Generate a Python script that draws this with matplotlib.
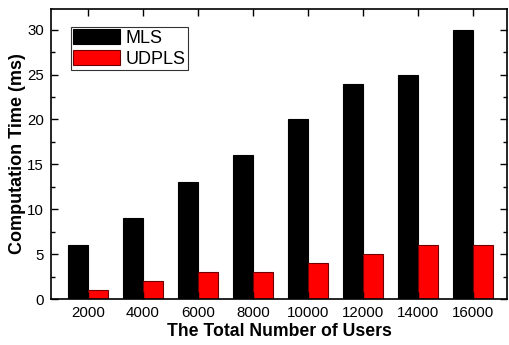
import numpy as np
import matplotlib
matplotlib.use("Agg")
import matplotlib.pyplot as plt
from matplotlib.ticker import MultipleLocator

# ---------------- data ----------------
users = ["2000", "4000", "6000", "8000", "10000", "12000", "14000", "16000"]
mls = [6, 9, 13, 16, 20, 24, 25, 30]
udpls = [1, 2, 3, 3, 4, 5, 6, 6]

plt.rcParams["font.family"] = ["Liberation Sans", "DejaVu Sans"]

fig = plt.figure(figsize=(5.1, 3.45), dpi=100)
ax = fig.add_axes([0.1, 0.133, 0.894, 0.841])

x = np.arange(len(users))
w = 0.36
ax.bar(x - w / 2, mls, w, color="black", edgecolor="black", linewidth=0.8, label="MLS")
ax.bar(x + w / 2, udpls, w, color="#ff0000", edgecolor="#700000", linewidth=0.8, label="UDPLS")

ax.set_xlim(-0.67, 7.62)
ax.set_ylim(0, 32.3)
ax.set_xticks(x)
ax.set_xticklabels(users)
ax.yaxis.set_major_locator(MultipleLocator(5))
ax.yaxis.set_minor_locator(MultipleLocator(2.5))

ax.tick_params(direction="in", top=True, right=True, labelsize=10.8, width=1, length=5, pad=5)
ax.tick_params(axis="y", which="minor", direction="in", right=True, width=1, length=3)
ax.tick_params(axis="x", which="minor", bottom=False, top=False)
for s in ax.spines.values():
    s.set_linewidth(1.2)

ax.set_xlabel("The Total Number of Users", fontsize=12.7, fontweight="bold", labelpad=2)
ax.set_ylabel("Computation Time (ms)", fontsize=13, fontweight="bold", labelpad=1)

leg = ax.legend(loc="upper left", bbox_to_anchor=(0.044, 0.938), fontsize=13, frameon=True,
                fancybox=False, edgecolor="black", handlelength=2.6, handleheight=0.85,
                borderpad=0.12, labelspacing=0.2, handletextpad=0.3, borderaxespad=0)
leg.get_frame().set_linewidth(0.8)

fig.savefig("out.png", dpi=100)
